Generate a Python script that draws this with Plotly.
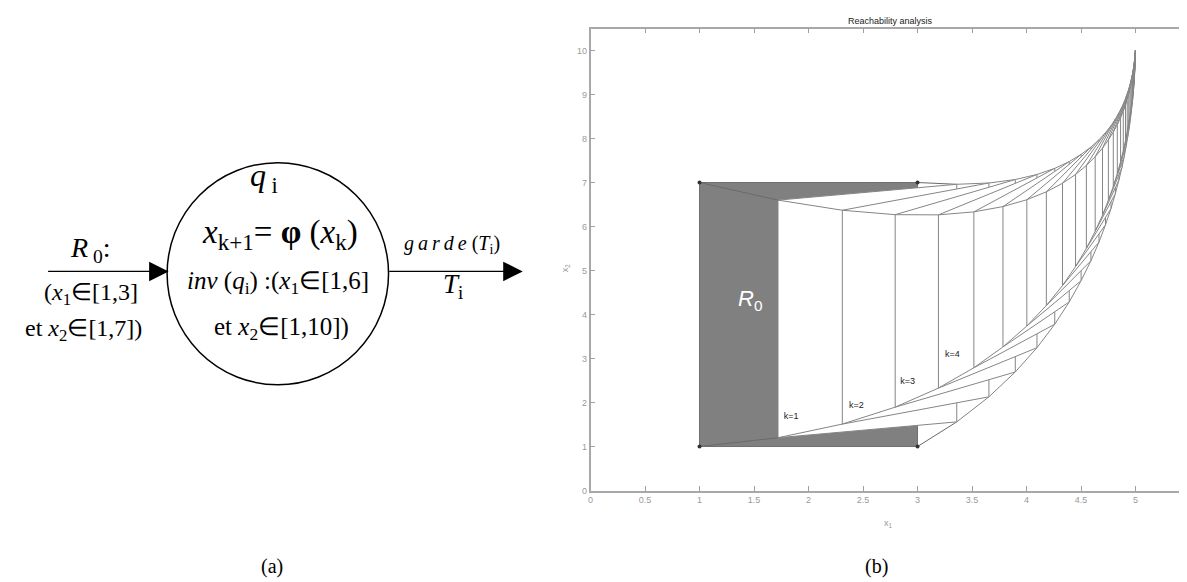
import plotly.graph_objects as go

# ---------------- data ----------------
STEP_K = list(range(36))
X1_LEFT = [1.000, 1.720, 2.310, 2.795, 3.192, 3.517, 3.784, 4.003, 4.182, 4.330, 4.450, 4.549,
           4.630, 4.697, 4.751, 4.796, 4.833, 4.863, 4.888, 4.908, 4.924, 4.938, 4.949, 4.958,
           4.966, 4.972, 4.977, 4.981, 4.985, 4.987, 4.990, 4.991, 4.993, 4.994, 4.995, 4.996]
X1_RIGHT = [3.000, 3.360, 3.655, 3.897, 4.096, 4.259, 4.392, 4.501, 4.591, 4.665, 4.725, 4.775,
            4.815, 4.848, 4.876, 4.898, 4.916, 4.931, 4.944, 4.954, 4.962, 4.969, 4.975, 4.979,
            4.983, 4.986, 4.989, 4.991, 4.992, 4.994, 4.995, 4.996, 4.997, 4.997, 4.998, 4.998]
X2_BOTTOM_LEFT = [1.000, 1.200, 1.510, 1.895, 2.328, 2.790, 3.264, 3.739, 4.205, 4.658, 5.091, 5.503,
                  5.892, 6.256, 6.596, 6.911, 7.204, 7.473, 7.721, 7.949, 8.157, 8.348, 8.522, 8.681,
                  8.825, 8.956, 9.076, 9.184, 9.282, 9.371, 9.452, 9.525, 9.591, 9.650, 9.704, 9.753]
X2_TOP_LEFT = [7.000, 6.600, 6.370, 6.269, 6.265, 6.333, 6.453, 6.609, 6.788, 6.983, 7.183, 7.386,
               7.587, 7.781, 7.969, 8.146, 8.316, 8.474, 8.622, 8.760, 8.886, 9.005, 9.113, 9.213,
               9.304, 9.387, 9.464, 9.533, 9.596, 9.654, 9.706, 9.754, 9.797, 9.835, 9.871, 9.903]
X2_BOTTOM_RIGHT = [1.000, 1.560, 2.129, 2.694, 3.246, 3.779, 4.287, 4.770, 5.222, 5.647, 6.042, 6.408,
                   6.747, 7.059, 7.346, 7.608, 7.850, 8.069, 8.270, 8.453, 8.619, 8.771, 8.908, 9.033,
                   9.146, 9.248, 9.341, 9.424, 9.500, 9.569, 9.631, 9.687, 9.738, 9.783, 9.824, 9.861]
X2_TOP_RIGHT = [7.000, 6.960, 6.989, 7.068, 7.183, 7.322, 7.476, 7.640, 7.805, 7.972, 8.134, 8.291,
                8.442, 8.584, 8.719, 8.843, 8.962, 9.070, 9.171, 9.264, 9.348, 9.428, 9.499, 9.565,
                9.625, 9.679, 9.729, 9.773, 9.814, 9.852, 9.885, 9.916, 9.944, 9.968, 9.991, 10.011]

K_LABELS = ["k=1", "k=2", "k=3", "k=4"]
K_LABEL_X1 = [1.84, 2.44, 2.91, 3.32]
K_LABEL_X2 = [1.68, 1.93, 2.47, 3.09]
R0_LABEL_X1, R0_LABEL_X2 = 1.46, 4.33

X_TICKS = [0, 0.5, 1, 1.5, 2, 2.5, 3, 3.5, 4, 4.5, 5, 5.5]
X_TICK_TEXT = ["0", "0.5", "1", "1.5", "2", "2.5", "3", "3.5", "4", "4.5", "5", "5.5"]
Y_TICKS = [0, 1, 2, 3, 4, 5, 6, 7, 8, 9, 10]
Y_TICK_TEXT = ["0", "1", "2", "3", "4", "5", "6", "7", "8", "9", "10"]

W, H = 1187, 582
EDGE = "#858585"
R0_FILL = "#808080"
SERIF = "Liberation Serif, Times New Roman, serif"
SANS = "Liberation Sans, Arial, sans-serif"

fig = go.Figure()
n = len(STEP_K)
for k in range(n):
    xs = [X1_LEFT[k], X1_LEFT[k], X1_RIGHT[k], X1_RIGHT[k], X1_LEFT[k]]
    ys = [X2_BOTTOM_LEFT[k], X2_TOP_LEFT[k], X2_TOP_RIGHT[k], X2_BOTTOM_RIGHT[k], X2_BOTTOM_LEFT[k]]
    fig.add_trace(go.Scatter(
        x=xs, y=ys, mode="lines", fill="toself",
        fillcolor=R0_FILL if k == 0 else "white",
        line=dict(color="#6f6f6f" if k == 0 else EDGE, width=1),
        hoverinfo="skip", showlegend=False))
    if k < n - 1:
        cx = [X1_LEFT[k], X1_LEFT[k + 1], None,
              X1_LEFT[k], X1_LEFT[k + 1], None,
              X1_RIGHT[k], X1_RIGHT[k + 1], None,
              X1_RIGHT[k], X1_RIGHT[k + 1]]
        cy = [X2_BOTTOM_LEFT[k], X2_BOTTOM_LEFT[k + 1], None,
              X2_TOP_LEFT[k], X2_TOP_LEFT[k + 1], None,
              X2_TOP_RIGHT[k], X2_TOP_RIGHT[k + 1], None,
              X2_BOTTOM_RIGHT[k], X2_BOTTOM_RIGHT[k + 1]]
        fig.add_trace(go.Scatter(
            x=cx, y=cy, mode="lines", connectgaps=False,
            line=dict(color="#6a6a6a" if k == 0 else EDGE, width=1),
            hoverinfo="skip", showlegend=False))

# corner dots of R0
fig.add_trace(go.Scatter(
    x=[X1_LEFT[0], X1_LEFT[0], X1_RIGHT[0], X1_RIGHT[0]],
    y=[X2_BOTTOM_LEFT[0], X2_TOP_LEFT[0], X2_TOP_RIGHT[0], X2_BOTTOM_RIGHT[0]],
    mode="markers", marker=dict(color="#333333", size=4),
    hoverinfo="skip", showlegend=False))

# k labels
fig.add_trace(go.Scatter(
    x=K_LABEL_X1, y=K_LABEL_X2, mode="text", text=K_LABELS,
    textfont=dict(family=SANS, size=9, color="#222222"),
    hoverinfo="skip", showlegend=False))

fig.update_xaxes(
    domain=[581 / W, 1182 / W], range=[0, 5.5],
    tickmode="array", tickvals=X_TICKS, ticktext=X_TICK_TEXT,
    ticks="inside", ticklen=5, tickcolor="#a0a0a0", tickwidth=1,
    showline=True, linecolor="#a8a8a8", linewidth=1.5, mirror="ticks",
    showgrid=False, zeroline=False,
    tickfont=dict(family=SANS, size=9, color="#9a9a9a"))
fig.update_yaxes(
    domain=[1 - 486.7 / H, 1 - 20.7 / H], range=[0, 10.5],
    tickmode="array", tickvals=Y_TICKS, ticktext=Y_TICK_TEXT,
    ticks="inside", ticklen=5, tickcolor="#a0a0a0", tickwidth=1,
    showline=True, linecolor="#a8a8a8", linewidth=1.5, mirror="ticks",
    showgrid=False, zeroline=False,
    tickfont=dict(family=SANS, size=9, color="#9a9a9a"))


def px(x):
    return x / W


def py(y):
    return 1 - y / H


ann = []
# R0 label inside the plot
ann.append(dict(x=R0_LABEL_X1, y=R0_LABEL_X2, xref="x", yref="y", showarrow=False,
                xanchor="center", yanchor="middle",
                text="<i>R</i><sub>0</sub>", font=dict(family=SANS, size=22, color="white")))
# plot title and axis labels
ann.append(dict(x=px(882), y=py(13), xref="paper", yref="paper", showarrow=False,
                xanchor="center", yanchor="middle",
                text="Reachability analysis", font=dict(family=SANS, size=9, color="#222222")))
ann.append(dict(x=px(880), y=py(520), xref="paper", yref="paper", showarrow=False,
                xanchor="center", yanchor="middle",
                text="x<sub>1</sub>", font=dict(family=SANS, size=9, color="#9a9a9a")))
ann.append(dict(x=px(556), y=py(262), xref="paper", yref="paper", showarrow=False, textangle=-90,
                xanchor="center", yanchor="middle",
                text="x<sub>2</sub>", font=dict(family=SANS, size=9, color="#9a9a9a")))


# left diagram texts
def t(x, y, text, size):
    ann.append(dict(x=px(x), y=py(y), xref="paper", yref="paper", showarrow=False,
                    xanchor="center", yanchor="middle", text=text,
                    font=dict(family=SERIF, size=size, color="black")))


t(254, 171, "<i>q</i><sub> i</sub>", 32)
t(270, 228, "<i>x</i><sub>k+1</sub>= <b>φ</b> (<i>x</i><sub>k</sub>)", 33)
t(80, 244, "<i>R</i><sub> 0</sub>:", 28)
t(80, 288, "(<i>x</i><sub>1</sub>∈[1,3]", 24)
t(73, 325, "et <i>x</i><sub>2</sub>∈[1,7])", 24)
t(268, 277, "<i>inv</i> (<i>q</i><sub>i</sub>) :(<i>x</i><sub>1</sub>∈[1,6]", 25)
t(271, 323, "et <i>x</i><sub>2</sub>∈[1,10])", 25)
t(442, 239, "<i>g\u2009a\u2009r\u2009d\u2009e</i> (<i>T</i><sub>i</sub>)", 20)
t(443, 280, "<i>T</i><sub>i</sub>", 27)
t(262, 563, "(a)", 20)
t(868, 563, "(b)", 20)

# arrows
ann.append(dict(x=px(158), y=py(265.7), xref="paper", yref="paper", ax=-122, ay=0,
                showarrow=True, arrowhead=2, arrowsize=3, arrowwidth=1.3, arrowcolor="black", text=""))
ann.append(dict(x=px(513), y=py(265.7), xref="paper", yref="paper", ax=-135, ay=0,
                showarrow=True, arrowhead=2, arrowsize=3, arrowwidth=1.3, arrowcolor="black", text=""))

shapes = [dict(type="circle", xref="paper", yref="paper",
               x0=px(267.5 - 111), x1=px(267.5 + 111), y0=py(268 + 112), y1=py(268 - 112),
               line=dict(color="black", width=1.5))]

fig.update_layout(width=W, height=H, margin=dict(l=0, r=0, t=0, b=0),
                  paper_bgcolor="white", plot_bgcolor="white", showlegend=False,
                  annotations=ann, shapes=shapes)

fig.write_html("out.html")
